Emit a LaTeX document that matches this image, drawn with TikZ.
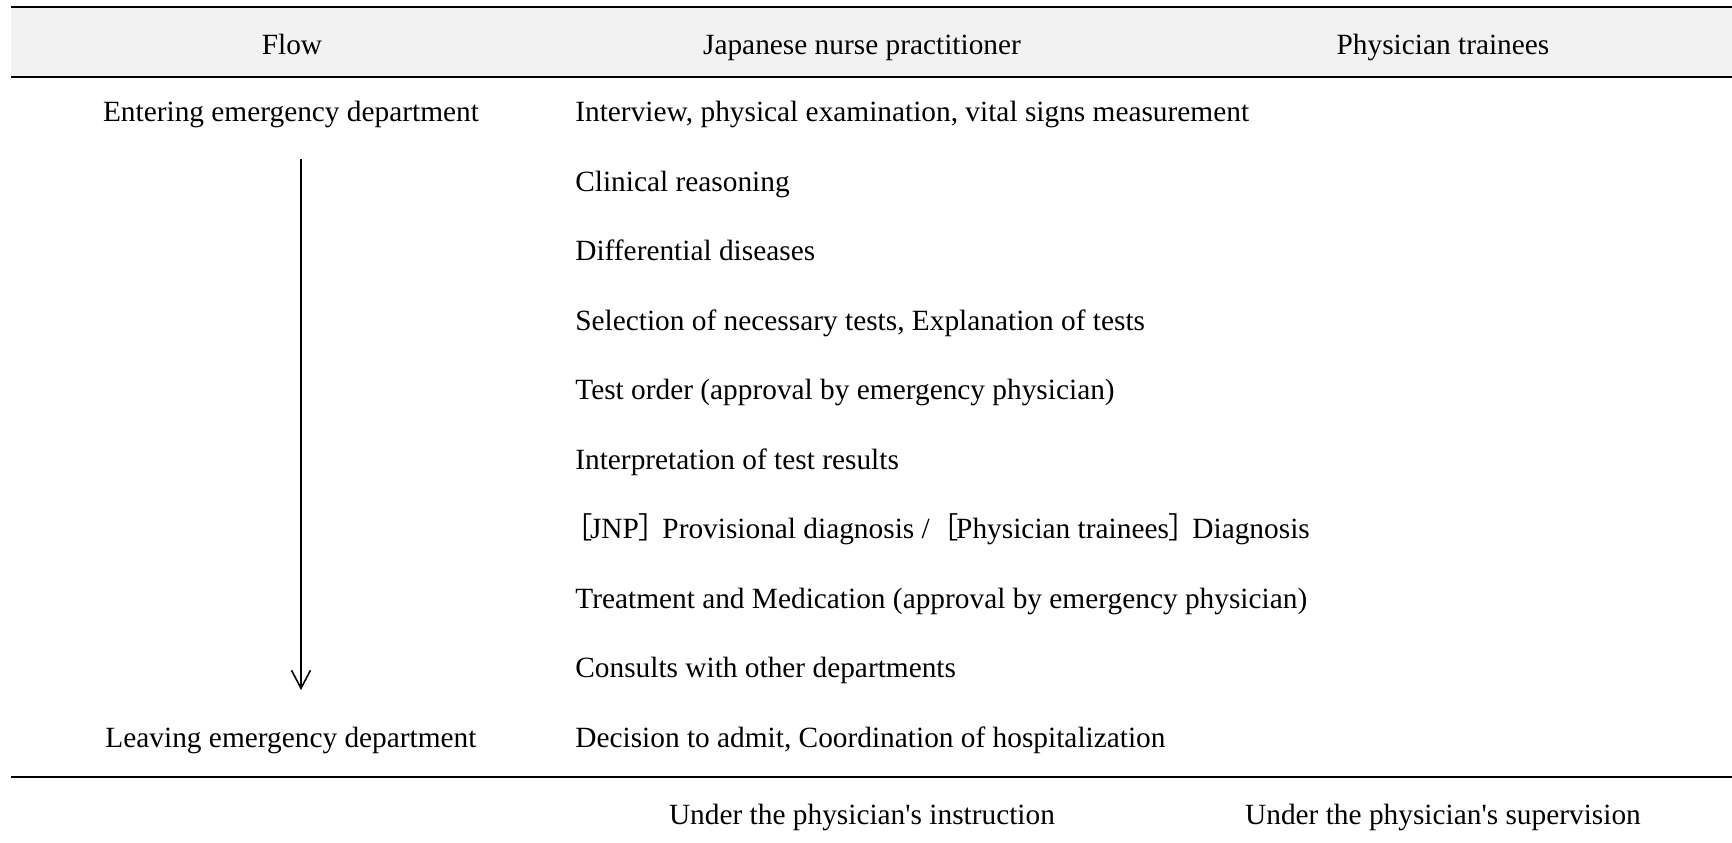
\documentclass[tikz,border=0pt]{standalone}
\usepackage{fontspec}
\setmainfont{Liberation Serif}
\newfontfamily\cjk{Noto Sans CJK JP}
\usetikzlibrary{arrows.meta}
\definecolor{headgray}{HTML}{F2F2F2}
\tikzset{
  cell/.style={anchor=base west,inner sep=0pt,font=\fontsize{16.7}{20}\selectfont},
  head/.style={anchor=base,inner sep=0pt,font=\fontsize{16.7}{20}\selectfont},
  rule/.style={line width=1.3pt},
  flowarrow/.style={line width=0.9pt,-{Straight Barb[length=3.6mm,width=3.8mm]}}
}
\newcommand{\lbr}{{\cjk ［}\hspace{-0.1em}}
\newcommand{\rbr}{{\cjk ］}\hspace{-0.45em}}
\begin{document}
\begin{tikzpicture}[x=0.2mm,y=-0.2mm]
\useasboundingbox (0,0) rectangle (1732,843);
% header band and rules
\fill[headgray] (11,7) rectangle (1732,77);
\draw[rule] (11,7) -- (1732,7);
\draw[rule] (11,77) -- (1732,77);
\draw[rule] (11,777) -- (1732,777);
\node[head] (hflow) at (292,55) {Flow};
\node[head] (hjnp) at (862,55) {Japanese nurse practitioner};
\node[head] (hphys) at (1443,55) {Physician trainees};
% flow column
\node[head] (enter) at (291,122) {Entering emergency department};
\node[head] (leave) at (291,747.5) {Leaving emergency department};
\coordinate (ftop) at (301,159);
\coordinate (fend) at (301,690);
\draw[flowarrow] (ftop) -- (fend);
% tasks
\foreach \txt [count=\i] in {%
  {Interview, physical examination, vital signs measurement},
  {Clinical reasoning},
  {Differential diseases},
  {Selection of necessary tests, Explanation of tests},
  {Test order (approval by emergency physician)},
  {Interpretation of test results},
  {\hspace{-0.4em}\lbr JNP\rbr\ Provisional diagnosis /\lbr Physician trainees\rbr\ Diagnosis},
  {Treatment and Medication (approval by emergency physician)},
  {Consults with other departments},
  {Decision to admit, Coordination of hospitalization}}
  \node[cell] (task\i) at (575,{122+69.5*(\i-1)}) {\txt};
% footer
\node[head] (instr) at (862,825) {Under the physician\textquotesingle s instruction};
\node[head] (super) at (1443,825) {Under the physician\textquotesingle s supervision};
\end{tikzpicture}
\end{document}
